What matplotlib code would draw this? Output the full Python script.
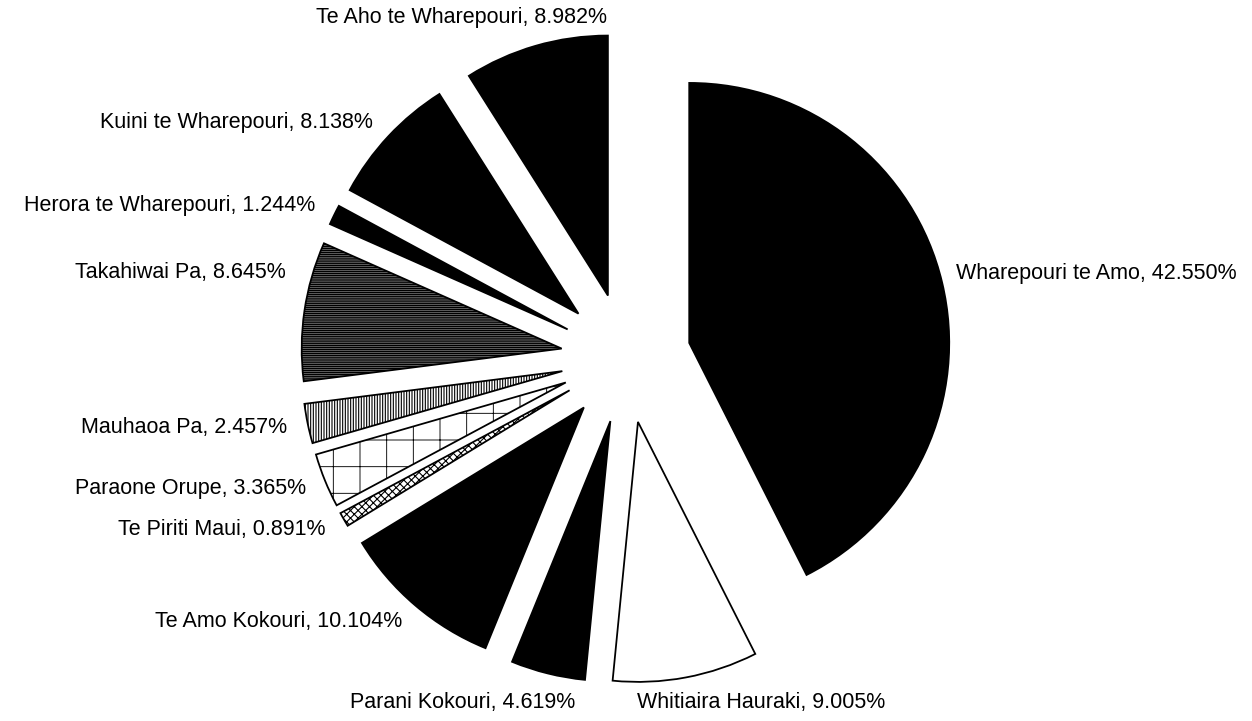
import matplotlib.pyplot as plt

# slice data, clockwise from 12 o'clock
names = ['Wharepouri te Amo', 'Whitiaira Hauraki', 'Parani Kokouri', 'Te Amo Kokouri',
         'Te Piriti Maui', 'Paraone Orupe', 'Mauhaoa Pa', 'Takahiwai Pa',
         'Herora te Wharepouri', 'Kuini te Wharepouri', 'Te Aho te Wharepouri']
shares = [42.550, 9.005, 4.619, 10.104, 0.891, 3.365, 2.457, 8.645, 1.244, 8.138, 8.982]

fills = ['black', 'white', 'black', 'black', 'white', 'white', 'white', 'white',
         'black', 'black', 'black']
hatches = [None, None, None, None, 'xxxxxxx', '+', '|' * 10, '-' * 14,
           None, None, None]
hatch_lw = [None, None, None, None, 0.5, 0.4, 0.5, 0.7, None, None, None]

# small label nudges (pixels) where the original layout moved a label
nudge = {'Wharepouri te Amo': (-6, 4), 'Whitiaira Hauraki': (-53, -5),
         'Parani Kokouri': (32, -9), 'Takahiwai Pa': (2, 35),
         'Te Aho te Wharepouri': (77, 8)}

DPI = 160
W, H = 1252, 721
R_PX = 260.0          # pie radius in pixels
CX, CY = 626, 358     # pie centre in pixels (from top-left)

plt.rcParams['font.family'] = ['Liberation Sans', 'DejaVu Sans']
plt.rcParams['hatch.color'] = 'black'

fig = plt.figure(figsize=(W / DPI, H / DPI), dpi=DPI)
ax = fig.add_axes([0, 0, 1, 1])
ax.axis('off')

labels = [f'{n}, {v:.3f}%' for n, v in zip(names, shares)]
wedges, texts = ax.pie(shares, labels=labels, startangle=90, counterclock=False,
                       explode=[0.25] * len(shares), radius=1.0, labeldistance=1.08,
                       colors=fills, frame=False,
                       wedgeprops=dict(edgecolor='black', linewidth=0.8),
                       textprops=dict(fontsize=9.7, color='black'))
ax.set_aspect('auto')
ax.set_xlim(-CX / R_PX, (W - CX) / R_PX)
ax.set_ylim(-(H - CY) / R_PX, CY / R_PX)

for w, h, lw in zip(wedges, hatches, hatch_lw):
    if h:
        w.set_hatch(h)
        if hasattr(w, 'set_hatch_linewidth'):
            w.set_hatch_linewidth(lw)

for t, n in zip(texts, names):
    if n in nudge:
        dx, dy = nudge[n]
        x, y = t.get_position()
        t.set_position((x + dx / R_PX, y + dy / R_PX))

fig.savefig('out.png', dpi=DPI)
